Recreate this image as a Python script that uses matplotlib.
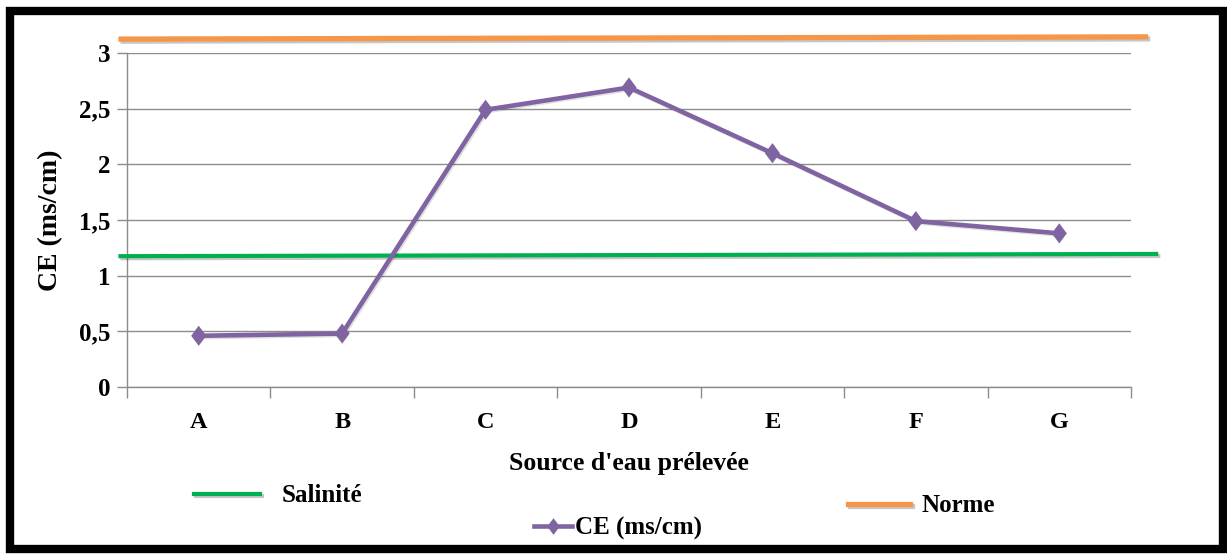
import numpy as np
import matplotlib.pyplot as plt
import matplotlib.patheffects as pe
from matplotlib.lines import Line2D
from matplotlib.patches import Rectangle

# data
sources = ['A', 'B', 'C', 'D', 'E', 'F', 'G']
ce_values = [0.46, 0.48, 2.49, 2.69, 2.10, 1.49, 1.38]
salinite_level = [1.175, 1.195]   # slightly sloped reference line (start, end)
norme_level = [3.125, 3.145]

yticks = [0, 0.5, 1, 1.5, 2, 2.5, 3]
ytick_labels = ['0', '0,5', '1', '1,5', '2', '2,5', '3']

purple = '#8064a2'
green = '#00b050'
orange = '#f79646'
grid_gray = '#8c8c8c'

plt.rcParams['font.family'] = 'Liberation Serif'
plt.rcParams['font.weight'] = 'bold'

fig = plt.figure(figsize=(12.27, 5.56), dpi=100)
ax = fig.add_axes([127 / 1227, 1 - 387 / 556, (1131 - 127) / 1227, (387 - 53) / 556])

x = np.arange(len(sources))
shadow = [pe.SimpleLineShadow(offset=(1.5, -1.5), alpha=0.22), pe.Normal()]
soft_shadow = [pe.SimpleLineShadow(offset=(1, -1), alpha=0.12), pe.Normal()]

# the two reference lines overhang the plot area like the drawn shapes in the original
ax.plot([-0.56, 6.69], salinite_level, color=green, lw=3, clip_on=False,
        solid_capstyle='butt', path_effects=shadow, zorder=3)
ax.plot([-0.56, 6.62], norme_level, color=orange, lw=3.8, clip_on=False,
        solid_capstyle='butt', path_effects=shadow, zorder=3)

diamond = [(0, 1), (0.75, 0), (0, -1), (-0.75, 0), (0, 1)]
ax.plot(x, ce_values, color=purple, lw=3.3, marker=diamond, markersize=14.5,
        markeredgewidth=0, path_effects=soft_shadow, zorder=4)

ax.set_xlim(-0.5, len(sources) - 0.5)
ax.set_ylim(0, 3)
ax.set_yticks(yticks)
ax.set_yticklabels(ytick_labels, fontsize=18, fontweight='bold')
ax.set_xticks(x)
ax.set_xticklabels(sources, fontsize=17.5, fontweight='bold')
ax.set_xticks(np.arange(-0.5, len(sources)), minor=True)
ax.tick_params(axis='x', which='major', length=0, pad=18)
ax.tick_params(axis='x', which='minor', length=8, color=grid_gray, width=1)
ax.tick_params(axis='y', length=7, color=grid_gray, width=1, pad=5)

ax.yaxis.grid(True, color=grid_gray, lw=1)
ax.set_axisbelow(True)
for s in ['top', 'right']:
    ax.spines[s].set_visible(False)
for s in ['left', 'bottom']:
    ax.spines[s].set_color(grid_gray)
    ax.spines[s].set_linewidth(1)

ax.set_xlabel("Source d'eau prélevée", fontsize=18.5, fontweight='bold')
ax.set_ylabel('CE (ms/cm)', fontsize=20, fontweight='bold')
ax.xaxis.set_label_coords(0.5, -0.195)
ax.yaxis.set_label_coords(-0.064, 0.5)

# three separate legend entries, scattered like the original
leg_kw = dict(frameon=False, borderpad=0, borderaxespad=0, loc='center left',
              bbox_transform=fig.transFigure, prop={'size': 18, 'weight': 'bold'})
h1 = Line2D([], [], color=green, lw=3, path_effects=shadow)
l1 = fig.legend([h1], ['Salinité'], bbox_to_anchor=(194 / 1227, 1 - 496 / 556),
                handlelength=2.64, handletextpad=0.88, **leg_kw)
h2 = Line2D([], [], color=purple, lw=3.3, marker=diamond, markersize=12, markeredgewidth=0)
l2 = fig.legend([h2], ['CE (ms/cm)'], bbox_to_anchor=(534 / 1227, 1 - 528 / 556),
                handlelength=1.52, handletextpad=0.12, **leg_kw)
h3 = Line2D([], [], color=orange, lw=3.8, path_effects=shadow)
l3 = fig.legend([h3], ['Norme'], bbox_to_anchor=(848 / 1227, 1 - 506 / 556),
                handlelength=2.48, handletextpad=0.48, **leg_kw)

# black frame around the whole chart
fig.patches.append(Rectangle((10 / 1227, 1 - 549 / 556), (1223 - 10) / 1227, (549 - 11) / 556,
                             transform=fig.transFigure, fill=False, edgecolor='black', lw=6))

fig.savefig('out.png', dpi=100)
